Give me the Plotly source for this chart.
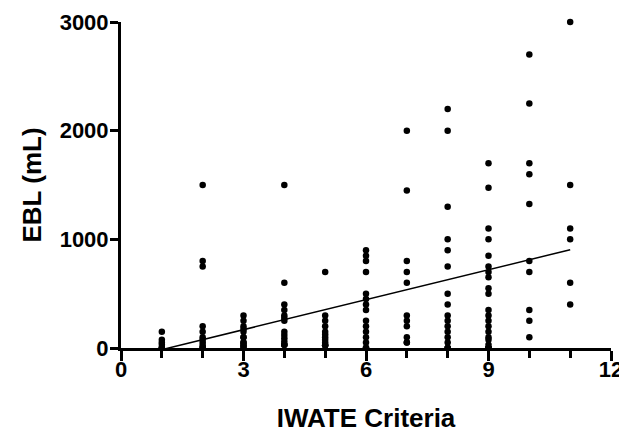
import numpy as np
import plotly.graph_objects as go

# IWATE criteria score -> list of EBL (mL) values
# (stacked low values include a few overlapping duplicates)
ebl_by_score = {
    1: [150, 75, 50, 30, 0, 0, 0],
    2: [1500, 800, 750, 200, 150, 100, 75, 50, 25, 0, 0, 0],
    3: [300, 250, 200, 175, 150, 100, 100, 50, 50, 25, 25, 0, 0],
    4: [1500, 600, 400, 350, 300, 275, 250, 150, 120, 90, 60, 30, 30, 30],
    5: [700, 300, 250, 200, 150, 125, 100, 75, 50, 25, 25, 25],
    6: [900, 850, 800, 700, 500, 450, 400, 350, 250, 200, 150, 100, 50, 0, 0, 0],
    7: [2000, 1450, 800, 700, 600, 300, 250, 200, 100, 50, 50],
    8: [2200, 2000, 1300, 1000, 900, 750, 500, 400, 300, 250, 200, 150, 100, 50,
        0, 0, 0],
    9: [1700, 1475, 1100, 1000, 850, 750, 700, 650, 550, 500, 350, 300, 250, 200,
        150, 100, 75, 30, 0, 0, 0, 0],
    10: [2700, 2250, 1700, 1600, 1325, 800, 700, 350, 250, 100],
    11: [3000, 1500, 1100, 1000, 600, 400],
}

x_ticks = [0, 3, 6, 9, 12]
y_ticks = [0, 1000, 2000, 3000]

xs = []
ys = []
for k, vals in ebl_by_score.items():
    xs += [k] * len(vals)
    ys += vals
xs = np.array(xs, dtype=float)
ys = np.array(ys, dtype=float)

slope, intercept = np.polyfit(xs, ys, 1)
line_x = np.array([xs.min(), xs.max()])
line_y = slope * line_x + intercept

FONT = "Liberation Sans, Arial, sans-serif"

fig = go.Figure()
fig.add_trace(go.Scatter(
    x=line_x, y=line_y, mode="lines",
    line=dict(color="black", width=1.5), hoverinfo="skip",
))
fig.add_trace(go.Scatter(
    x=xs, y=ys, mode="markers",
    marker=dict(color="black", size=6.5),
    cliponaxis=False,
))

fig.update_layout(
    width=619, height=428,
    margin=dict(l=113, r=16, t=14, b=88),
    paper_bgcolor="white", plot_bgcolor="white",
    showlegend=False,
    font=dict(family=FONT, color="black"),
    xaxis=dict(
        range=[0, 12], tickvals=x_ticks, ticktext=[str(v) for v in x_ticks],
        automargin=False,
        showline=True, linecolor="black", linewidth=3,
        ticks="outside", ticklen=10, tickwidth=3, tickcolor="black",
        ticklabelstandoff=-10,
        showgrid=False, zeroline=False,
        tickfont=dict(size=22, family=FONT, weight="bold"),
        minor=dict(dtick=1, tick0=0, ticks="outside", ticklen=7, tickwidth=3,
                   tickcolor="black", showgrid=False),
        title=dict(text="<b>IWATE Criteria</b>", font=dict(size=26, family=FONT),
                   standoff=28),
    ),
    yaxis=dict(
        range=[0, 3000], tickvals=y_ticks, ticktext=[str(v) for v in y_ticks],
        automargin=False,
        showline=True, linecolor="black", linewidth=3,
        ticks="outside", ticklen=8, tickwidth=3, tickcolor="black",
        ticklabelstandoff=-3,
        showgrid=False, zeroline=False,
        tickfont=dict(size=22, family=FONT, weight="bold"),
        title=dict(text="<b>EBL (mL)</b>", font=dict(size=26, family=FONT),
                   standoff=11),
    ),
)

fig.write_html("out.html")
